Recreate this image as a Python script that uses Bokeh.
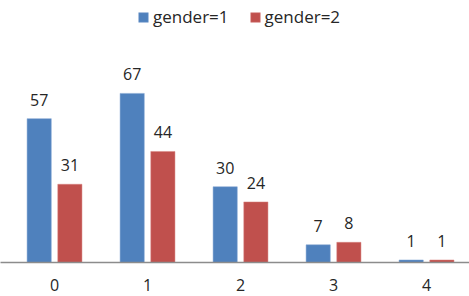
from bokeh.plotting import figure
from bokeh.models import ColumnDataSource, Range1d, Legend, LegendItem, FixedTicker
from bokeh.embed import file_html
from bokeh.resources import INLINE
from bokeh.core.properties import value

categories = ["0", "1", "2", "3", "4"]
gender1 = [57, 67, 30, 7, 1]
gender2 = [31, 44, 24, 8, 1]
series_names = ["gender=1", "gender=2"]

BLUE = "#4F81BD"
RED = "#C0504D"
FONT = "Open Sans"
TXT = "#262626"
OFF = 0.165
BW = 0.26

idx = list(range(len(categories)))
src = ColumnDataSource(data=dict(
    x1=[i - OFF for i in idx],
    x2=[i + OFF for i in idx],
    g1=gender1,
    g2=gender2,
    l1=[str(v) for v in gender1],
    l2=[str(v) for v in gender2],
))

p = figure(x_range=Range1d(-0.581, 4.462),
           y_range=Range1d(0, 103.8),
           width=469, height=296, output_backend="svg", toolbar_location=None,
           min_border_left=0, min_border_right=0, min_border_top=0, min_border_bottom=34)

r1 = p.vbar(x="x1", top="g1", width=BW, source=src,
            fill_color=BLUE, line_color="#7EA3D0", line_width=0.5)
r2 = p.vbar(x="x2", top="g2", width=BW, source=src,
            fill_color=RED, line_color="#D88480", line_width=0.5)

for xc, col, lab in [("x1", "g1", "l1"), ("x2", "g2", "l2")]:
    p.text(x=xc, y=col, text=lab, source=src,
           text_align="center", text_baseline="alphabetic", y_offset=-19,
           text_font=value(FONT), text_font_size="16px", text_color=TXT)

legend = Legend(items=[LegendItem(label=series_names[0], renderers=[r1]),
                       LegendItem(label=series_names[1], renderers=[r2])],
                orientation="horizontal", location=(137, 234),
                border_line_color=None, background_fill_alpha=0,
                label_text_font=FONT, label_text_font_size="17px", label_text_color=TXT,
                glyph_width=12, glyph_height=12, spacing=20, padding=0, margin=0,
                label_standoff=4, label_height=20)
p.add_layout(legend)

p.xaxis.ticker = FixedTicker(ticks=idx)
p.xaxis.major_label_overrides = {i: c for i, c in zip(idx, categories)}
p.xgrid.visible = False
p.ygrid.visible = False
p.yaxis.visible = False
p.outline_line_color = None
p.xaxis.axis_line_color = "#8C8C8C"
p.xaxis.axis_line_width = 1.5
p.xaxis.major_tick_line_color = None
p.xaxis.minor_tick_line_color = None
p.xaxis.major_label_standoff = 10
p.xaxis.major_label_text_font = FONT
p.xaxis.major_label_text_font_size = "16px"
p.xaxis.major_label_text_color = TXT

open("out.html", "w").write(file_html(p, INLINE))
